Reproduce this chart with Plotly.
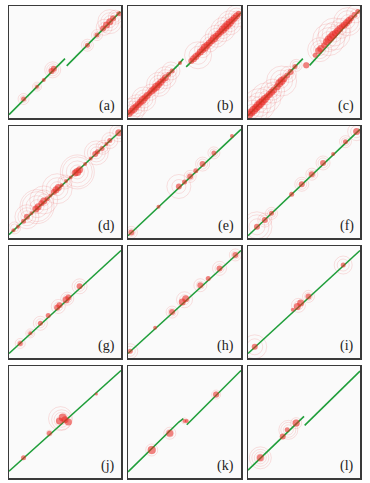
import plotly.graph_objects as go

W, H = 370, 483
col_px = [(9, 121), (128, 241), (248, 360)]
row_px = [(6, 118), (126, 238), (246, 358), (366, 478)]
labels = ["(a)", "(b)", "(c)", "(d)", "(e)", "(f)", "(g)", "(h)", "(i)", "(j)", "(k)", "(l)"]

# green alignment segments: list of (xs, ys) per panel
lines_a = [([0.0, 0.46, 0.50], [0.03, 0.49, 0.53]), ([0.515, 0.995], [0.465, 0.95])]
lines_b = [([0.0, 0.44, 0.49], [0.03, 0.47, 0.53]), ([0.515, 1.0], [0.457, 0.94])]
lines_c = [([0.0, 0.45, 0.49], [0.02, 0.49, 0.53]), ([0.55, 1.0], [0.47, 0.965])]
lines_d = [([0.0, 1.0], [0.03, 0.96])]
lines_e = [([0.0, 1.0], [0.02, 0.97])]
lines_f = [([0.0, 1.0], [0.02, 0.97])]
lines_g = [([0.0, 1.0], [0.04, 0.96])]
lines_h = [([0.0, 1.0], [0.04, 0.96])]
lines_i = [([0.0, 1.0], [0.04, 0.96])]
lines_j = [([0.0, 1.0], [0.06, 0.96])]
lines_k = [([0.0, 0.45, 0.49], [0.055, 0.50, 0.53]), ([0.52, 1.0], [0.475, 0.96])]
lines_l = [([0.0, 0.50], [0.07, 0.55]), ([0.506, 1.0], [0.47, 0.955])]

# concentric rings: (x, y, [diameters])
rings_a = [(0.13, 0.17, [7, 11]), (0.25, 0.28, [6, 9]), (0.39, 0.43, [8, 12, 16]),
           (0.70, 0.65, [8, 12]), (0.785, 0.74, [7, 11]), (0.85, 0.81, [10, 16]),
           (0.90, 0.86, [12, 18, 24]), (0.95, 0.90, [10, 14])]
rings_b = [(0.04, 0.07, [12, 18, 24]), (0.08, 0.11, [10, 16, 22]), (0.14, 0.17, [12, 18, 24]),
           (0.20, 0.23, [10, 16]), (0.27, 0.30, [12, 18, 24]), (0.33, 0.36, [10, 16, 22]),
           (0.38, 0.42, [12, 18]), (0.62, 0.56, [18, 27]), (0.66, 0.61, [10, 16]),
           (0.72, 0.67, [12, 18]), (0.78, 0.73, [10, 16, 22]), (0.84, 0.79, [12, 18, 24]),
           (0.90, 0.85, [12, 18, 24]), (0.96, 0.91, [10, 16, 22])]
rings_c = [(0.04, 0.06, [14, 22, 30]), (0.10, 0.12, [16, 24, 32]), (0.16, 0.18, [14, 22, 30]),
           (0.22, 0.24, [12, 18, 24]), (0.30, 0.33, [14, 22, 30]), (0.36, 0.39, [10, 16]),
           (0.43, 0.47, [8, 12]), (0.52, 0.47, [6]), (0.64, 0.61, [12, 18, 24]),
           (0.72, 0.70, [16, 24, 32]), (0.77, 0.75, [16, 24, 32]), (0.83, 0.80, [12, 20]),
           (0.89, 0.86, [14, 22, 28]), (0.96, 0.93, [10, 18])]
rings_d = [(0.05, 0.09, [8, 12]), (0.16, 0.19, [12, 18, 24]), (0.25, 0.28, [14, 22, 30, 34]),
           (0.31, 0.34, [12, 20, 28]), (0.43, 0.44, [14, 22, 30]), (0.50, 0.50, [10, 14]),
           (0.61, 0.59, [14, 22, 30, 34]), (0.78, 0.76, [12, 18, 24]), (0.84, 0.81, [10, 14]),
           (0.90, 0.87, [10, 16]), (0.98, 0.94, [12, 18])]
rings_e = [(0.03, 0.05, [8, 12]), (0.45, 0.46, [14, 24]), (0.55, 0.55, [8, 12]),
           (0.66, 0.66, [10, 14]), (0.76, 0.76, [8, 12])]
rings_f = [(0.08, 0.10, [16, 24, 30]), (0.15, 0.16, [10, 14]), (0.21, 0.22, [8, 12]),
           (0.48, 0.48, [10, 14]), (0.57, 0.57, [8, 12]), (0.67, 0.67, [10, 14]),
           (0.87, 0.86, [8, 12]), (0.97, 0.95, [12, 18])]
rings_g = [(0.10, 0.13, [6, 10]), (0.19, 0.22, [6, 9]), (0.28, 0.31, [9, 14]),
           (0.44, 0.46, [9, 14]), (0.52, 0.53, [9, 13]), (0.63, 0.64, [10, 15])]
rings_h = [(0.02, 0.06, [10, 15]), (0.39, 0.41, [8, 12]), (0.50, 0.52, [10, 16]),
           (0.64, 0.65, [8, 13]), (0.81, 0.80, [9, 14]), (0.95, 0.92, [8, 12])]
rings_i = [(0.06, 0.10, [16, 24]), (0.45, 0.47, [9, 14]), (0.54, 0.55, [8, 12]),
           (0.85, 0.83, [12, 18])]
rings_j = [(0.36, 0.40, [6]), (0.47, 0.52, [10, 15, 20]), (0.46, 0.53, [24])]
rings_k = [(0.21, 0.25, [8, 12]), (0.37, 0.40, [8, 12]), (0.50, 0.51, [6]), (0.78, 0.745, [6, 9])]
rings_l = [(0.11, 0.18, [8, 12, 17, 22]), (0.36, 0.43, [10, 15, 19]), (0.43, 0.49, [7, 11])]

# filled dots: (x, y, diameter)
dots_a = [(0.13, 0.17, 5), (0.25, 0.28, 4), (0.31, 0.34, 4), (0.38, 0.42, 6), (0.40, 0.44, 6),
          (0.70, 0.65, 5), (0.785, 0.74, 5), (0.84, 0.80, 6), (0.87, 0.83, 7), (0.90, 0.86, 7),
          (0.93, 0.89, 6), (0.98, 0.93, 5)]
dots_b = [(0.01, 0.04, 7), (0.03, 0.06, 7), (0.05, 0.08, 8), (0.07, 0.10, 7), (0.09, 0.12, 7),
          (0.11, 0.14, 7), (0.13, 0.16, 8), (0.15, 0.18, 7), (0.17, 0.20, 7), (0.19, 0.22, 6),
          (0.21, 0.24, 7), (0.23, 0.26, 7), (0.25, 0.28, 8), (0.27, 0.30, 7), (0.29, 0.32, 7),
          (0.31, 0.34, 6), (0.33, 0.36, 7), (0.36, 0.39, 5), (0.39, 0.42, 5), (0.46, 0.49, 4),
          (0.56, 0.51, 6), (0.58, 0.53, 7), (0.60, 0.55, 7), (0.62, 0.57, 6), (0.64, 0.59, 7),
          (0.66, 0.61, 7), (0.68, 0.63, 8), (0.70, 0.65, 7), (0.72, 0.67, 7), (0.74, 0.69, 7),
          (0.76, 0.71, 8), (0.78, 0.73, 7), (0.80, 0.75, 7), (0.82, 0.77, 7), (0.84, 0.79, 8),
          (0.86, 0.81, 8), (0.88, 0.83, 8), (0.90, 0.85, 8), (0.92, 0.87, 7), (0.94, 0.89, 7),
          (0.96, 0.91, 7), (0.98, 0.93, 6)]
dots_c = [(0.01, 0.03, 8), (0.03, 0.05, 8), (0.05, 0.07, 9), (0.07, 0.09, 8), (0.09, 0.11, 9),
          (0.11, 0.13, 9), (0.13, 0.15, 8), (0.15, 0.17, 8), (0.17, 0.19, 7), (0.19, 0.21, 7),
          (0.21, 0.23, 7), (0.23, 0.25, 7), (0.26, 0.28, 7), (0.28, 0.31, 8), (0.30, 0.33, 8),
          (0.32, 0.35, 7), (0.35, 0.38, 6), (0.38, 0.41, 6), (0.42, 0.46, 5), (0.52, 0.47, 6),
          (0.60, 0.56, 5), (0.63, 0.60, 7), (0.65, 0.62, 7), (0.68, 0.65, 6), (0.70, 0.68, 7),
          (0.72, 0.70, 8), (0.74, 0.72, 8), (0.76, 0.74, 8), (0.78, 0.76, 7), (0.80, 0.78, 7),
          (0.82, 0.80, 7), (0.84, 0.82, 6), (0.86, 0.83, 7), (0.88, 0.85, 7), (0.90, 0.87, 7),
          (0.92, 0.89, 6), (0.95, 0.92, 6), (0.98, 0.95, 5)]
dots_d = [(0.04, 0.07, 4), (0.08, 0.10, 4), (0.13, 0.15, 5), (0.16, 0.19, 6), (0.20, 0.22, 4),
          (0.24, 0.26, 7), (0.26, 0.28, 7), (0.29, 0.31, 6), (0.31, 0.33, 7), (0.34, 0.35, 5),
          (0.37, 0.38, 4), (0.40, 0.41, 6), (0.42, 0.43, 7), (0.44, 0.45, 7), (0.47, 0.47, 4),
          (0.51, 0.51, 4), (0.55, 0.54, 4), (0.59, 0.58, 7), (0.61, 0.59, 8), (0.63, 0.61, 7),
          (0.68, 0.66, 4), (0.73, 0.71, 4), (0.77, 0.75, 6), (0.79, 0.77, 5), (0.83, 0.80, 5),
          (0.87, 0.84, 4), (0.90, 0.87, 5), (0.98, 0.94, 7)]
dots_e = [(0.03, 0.05, 6), (0.27, 0.28, 4), (0.45, 0.46, 6), (0.50, 0.50, 5), (0.55, 0.55, 6),
          (0.60, 0.60, 5), (0.66, 0.66, 6), (0.76, 0.76, 5), (0.92, 0.91, 4)]
dots_f = [(0.08, 0.10, 6), (0.15, 0.16, 6), (0.21, 0.22, 5), (0.39, 0.39, 5), (0.48, 0.48, 6),
          (0.57, 0.57, 6), (0.67, 0.67, 6), (0.76, 0.75, 4), (0.87, 0.86, 5), (0.97, 0.95, 7)]
dots_g = [(0.10, 0.13, 5), (0.19, 0.22, 4), (0.28, 0.31, 5), (0.35, 0.38, 5), (0.43, 0.45, 6),
          (0.45, 0.47, 6), (0.51, 0.52, 7), (0.53, 0.54, 6), (0.63, 0.64, 6)]
dots_h = [(0.02, 0.06, 5), (0.24, 0.27, 4), (0.39, 0.41, 6), (0.48, 0.50, 7), (0.51, 0.53, 7),
          (0.64, 0.65, 6), (0.71, 0.71, 5), (0.81, 0.80, 6), (0.95, 0.92, 6)]
dots_i = [(0.06, 0.10, 6), (0.40, 0.43, 4), (0.44, 0.46, 7), (0.47, 0.49, 7), (0.54, 0.55, 6),
          (0.85, 0.83, 5)]
dots_j = [(0.13, 0.18, 5), (0.36, 0.40, 5), (0.45, 0.51, 7), (0.48, 0.54, 8), (0.50, 0.52, 7),
          (0.53, 0.50, 7), (0.78, 0.75, 3)]
dots_k = [(0.21, 0.25, 8), (0.37, 0.40, 7), (0.50, 0.51, 4), (0.52, 0.51, 4), (0.78, 0.745, 6)]
dots_l = [(0.11, 0.18, 7), (0.31, 0.37, 6), (0.35, 0.43, 5), (0.43, 0.49, 7)]

panel_lines = [lines_a, lines_b, lines_c, lines_d, lines_e, lines_f,
               lines_g, lines_h, lines_i, lines_j, lines_k, lines_l]
panel_rings = [rings_a, rings_b, rings_c, rings_d, rings_e, rings_f,
               rings_g, rings_h, rings_i, rings_j, rings_k, rings_l]
panel_dots = [dots_a, dots_b, dots_c, dots_d, dots_e, dots_f,
              dots_g, dots_h, dots_i, dots_j, dots_k, dots_l]

RING = "rgba(236,90,90,0.45)"
DOT = "rgba(232,40,35,0.82)"
GREEN = "#1f9e3a"

fig = go.Figure()
layout = {}
for i in range(12):
    r, c = divmod(i, 3)
    n = "" if i == 0 else str(i + 1)
    xa, ya = "x" + n, "y" + n
    x0, x1 = col_px[c]
    y0, y1 = row_px[r]
    layout["xaxis" + n] = dict(domain=[x0 / W, x1 / W], range=[0, 1], anchor=ya,
                               showticklabels=False, ticks="", showgrid=False, zeroline=False,
                               showline=True, linecolor="#3a3a3a", linewidth=1.5, mirror=True,
                               fixedrange=True)
    layout["yaxis" + n] = dict(domain=[1 - y1 / H, 1 - y0 / H], range=[0, 1], anchor=xa,
                               showticklabels=False, ticks="", showgrid=False, zeroline=False,
                               showline=True, linecolor="#3a3a3a", linewidth=1.5, mirror=True,
                               fixedrange=True)
    rx, ry, rs = [], [], []
    for (cx, cy, sizes) in panel_rings[i]:
        for s in sizes:
            rx.append(cx); ry.append(cy); rs.append(s)
    fig.add_trace(go.Scatter(x=rx, y=ry, mode="markers", xaxis=xa, yaxis=ya,
                             marker=dict(symbol="circle-open", size=rs, color=RING,
                                         line=dict(width=0.6, color=RING)),
                             hoverinfo="skip", showlegend=False))
    for (lx, ly) in panel_lines[i]:
        fig.add_trace(go.Scatter(x=lx, y=ly, mode="lines", xaxis=xa, yaxis=ya,
                                 line=dict(color=GREEN, width=1.6),
                                 hoverinfo="skip", showlegend=False))
    dx = [d[0] for d in panel_dots[i]]
    dy = [d[1] for d in panel_dots[i]]
    ds = [d[2] for d in panel_dots[i]]
    fig.add_trace(go.Scatter(x=dx, y=dy, mode="markers", xaxis=xa, yaxis=ya,
                             marker=dict(symbol="circle", size=ds, color=DOT, line=dict(width=0)),
                             hoverinfo="skip", showlegend=False))
    fig.add_annotation(text=labels[i], xref=xa + " domain", yref=ya + " domain",
                       x=0.96, y=0.02, xanchor="right", yanchor="bottom", showarrow=False,
                       font=dict(family="Liberation Serif, Times New Roman, serif", size=14,
                                 color="#222"))

fig.update_layout(width=W, height=H, margin=dict(l=0, r=0, t=0, b=0),
                  paper_bgcolor="white", plot_bgcolor="#fafafa", hovermode=False, **layout)
fig.write_html("out.html", config={"displayModeBar": False, "staticPlot": True},
               post_script="document.body.style.margin='0';document.body.style.overflow='hidden';")
